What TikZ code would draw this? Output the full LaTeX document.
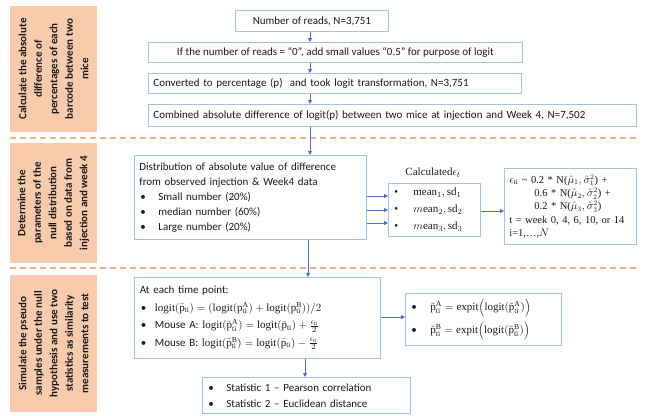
\documentclass[tikz,border=0pt]{standalone}
\usepackage{fontspec}
\setmainfont{Carlito}
\setmathrm{Liberation Serif}
\newfontfamily\cambria{Liberation Serif}
\usetikzlibrary{arrows.meta}
\definecolor{orfill}{HTML}{F8CBAD}
\definecolor{ordash}{HTML}{F4B183}
\definecolor{bxline}{HTML}{9DC3E6}
\definecolor{arrc}{HTML}{4472C4}
\newcommand{\bul}[2][19pt]{\makebox[#1][l]{\hspace{1pt}•}#2}
\newcommand{\rmti}{_{\mathrm{ti}}}
\newcommand{\lgt}{\mathrm{logit}}
\begin{document}
\begin{tikzpicture}[x=1pt,y=-1pt,
  bx/.style={draw=bxline, line width=0.8pt, inner ysep=0pt, inner xsep=5pt, anchor=north west,
    font=\fontsize{11}{14}\selectfont, text=black!90},
  side/.style={fill=orfill, inner sep=0pt, rotate=90, text=black!90,
    font=\bfseries\fontsize{11}{15.5}\selectfont, align=center},
  arr/.style={draw=arrc, line width=0.8pt, -{Triangle[length=4pt,width=4pt]}},
  sepline/.style={draw=ordash, line width=2pt, dash pattern=on 6pt off 4pt}]
\useasboundingbox (0,0) rectangle (647,415);

% left phase boxes
\node[side, minimum width=126pt, minimum height=87pt] (L1) at (53.5,69)
  {Calculate the absolute\\difference of\\percentages of each\\barcode between two\\mice};
\node[side, minimum width=120pt, minimum height=87pt] (L2) at (53.5,203)
  {Determine the\\parameters of the\\null distribution\\based on data from\\injection and week 4};
\node[side, minimum width=137pt, minimum height=87pt] (L3) at (53.5,343.5)
  {Simulate the pseudo\\samples under the null\\hypothesis and use two\\statistics as similarity\\measurements to test};

% separators
\draw[sepline] (10,137.5) -- (636,137.5);
\draw[sepline] (10,268) -- (636,268);

% section 1
\node[bx, minimum width=153pt, minimum height=21pt] (n1) at (235,10) {Number of reads, N=3,751};
\node[bx, minimum width=374pt, minimum height=20pt] (n2) at (148,42)
  {If the number of reads = “0”, add small values “0.5” for purpose of logit};
\node[bx, minimum width=373pt, minimum height=20pt, text width=363pt, align=left] (n3) at (148,73)
  {Converted to percentage (p)\ \ and took logit transformation, N=3,751};
\node[bx, minimum width=488pt, minimum height=22pt, text width=478pt, align=left] (n4) at (148,104)
  {Combined absolute difference of logit(p) between two mice at injection and Week 4, N=7,502};

% section 2
\node[bx, minimum width=232pt, minimum height=84pt, text width=222pt, align=left,
  font=\fontsize{11}{15}\selectfont] (dist) at (134,155)
  {Distribution of absolute value of difference\\
   from observed injection \& Week4 data\\
   \bul{Small number (20\%)}\\
   \bul{median number (60\%)}\\
   \bul{Large number (20\%)}};
\node[font=\cambria\fontsize{11}{13}\selectfont, text=black!90] (cl) at (433,173) {Calculated$\epsilon_t$};
\node[bx, minimum width=92pt, minimum height=53pt, text width=82pt, align=left,
  font=\cambria\fontsize{11}{17}\selectfont] (calc) at (388,183)
  {\bul[20pt]{$\mathrm{mean}_1, \mathrm{sd}_1$}\\
   \bul[20pt]{$m\mathrm{ean}_2, \mathrm{sd}_2$}\\
   \bul[20pt]{$m\mathrm{ean}_3, \mathrm{sd}_3$}};
\node[bx, minimum width=132pt, minimum height=76pt, text width=122pt, align=left,
  font=\cambria\fontsize{10.5}{13.3}\selectfont] (eps) at (504,168)
  {$\epsilon\rmti$ \textasciitilde\ 0.2 * N($\hat{\mu}_1, \hat{\sigma}_1^2$) +\\
   \hspace*{25pt}0.6 * N($\hat{\mu}_2, \hat{\sigma}_2^2$) +\\
   \hspace*{25pt}0.2 * N($\hat{\mu}_3, \hat{\sigma}_3^2$)\\
   t = week 0, 4, 6, 10, or 14\\
   i=1,…,$N$};

% section 3
\node[bx, minimum width=246pt, minimum height=81pt, text width=235pt, align=left, inner xsep=5.5pt,
  font=\fontsize{11}{17.5}\selectfont] (at) at (134,277)
  {At each time point:\\
   \bul[15pt]{$\lgt(\bar{\mathrm{p}}\rmti) = (\lgt(\mathrm{p}^{\mathrm{A}}\rmti) + \lgt(\mathrm{p}^{\mathrm{B}}\rmti))/2$}\\
   \bul[15pt]{Mouse A: $\lgt\bigl(\tilde{\mathrm{p}}^{\mathrm{A}}\rmti\bigr) = \lgt(\bar{\mathrm{p}}\rmti) + \frac{\epsilon\rmti}{2}$}\\
   \bul[15pt]{Mouse B: $\lgt\bigl(\tilde{\mathrm{p}}^{\mathrm{B}}\rmti\bigr) = \lgt(\bar{\mathrm{p}}\rmti) - \frac{\epsilon\rmti}{2}$}};
\node[bx, minimum width=156pt, minimum height=52pt, text width=146pt, align=left,
  font=\fontsize{11}{23}\selectfont] (expit) at (405,293)
  {\bul[20pt]{$\tilde{\mathrm{p}}^{\mathrm{A}}\rmti = \mathrm{expit}\Bigl(\lgt\bigl(\tilde{\mathrm{p}}^{\mathrm{A}}\rmti\bigr)\Bigr)$}\\
   \bul[20pt]{$\tilde{\mathrm{p}}^{\mathrm{B}}\rmti = \mathrm{expit}\Bigl(\lgt\bigl(\tilde{\mathrm{p}}^{\mathrm{B}}\rmti\bigr)\Bigr)$}};
\node[bx, minimum width=208pt, minimum height=36pt, text width=198pt, align=left,
  font=\fontsize{11}{16}\selectfont] (stat) at (202,377)
  {\bul{Statistic 1 – Pearson correlation}\\
   \bul{Statistic 2 – Euclidean distance}};

% helper coordinates
\coordinate (xa) at (310,0);
\coordinate (xb) at (308,0);
\coordinate (xc) at (305,0);
\coordinate (y1) at (0,196);
\coordinate (y2) at (0,210);
\coordinate (y3) at (0,223);
\coordinate (y4) at (0,211);
\coordinate (y5) at (0,317);

% connectors
\draw[arr] (n1.south -| xa) -- (n2.north -| xa);
\draw[arr] (n2.south -| xa) -- (n3.north -| xa);
\draw[arr] (n3.south -| xa) -- (n4.north -| xa);
\draw[arr] (n4.south -| xa) -- (dist.north -| xa);
\draw[arr] (dist.east |- y1) -- (calc.west |- y1);
\draw[arr] (dist.east |- y2) -- (calc.west |- y2);
\draw[arr] (dist.east |- y3) -- (calc.west |- y3);
\draw[arr] (calc.east |- y4) -- (eps.west |- y4);
\draw[arr] (dist.south -| xb) -- (at.north -| xb);
\draw[arr] (at.east |- y5) -- (expit.west |- y5);
\draw[arr] (at.south -| xc) -- (stat.north -| xc);
\end{tikzpicture}
\end{document}
